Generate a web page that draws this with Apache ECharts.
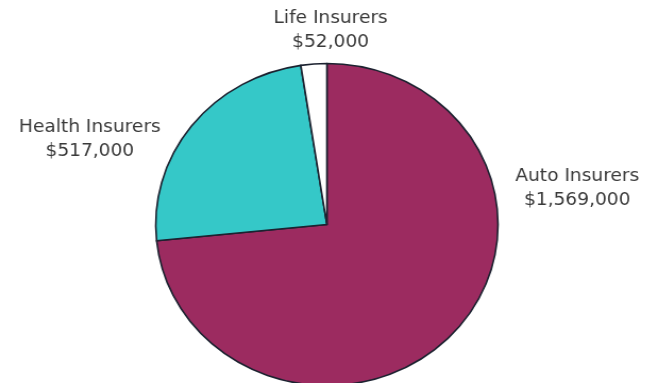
<!DOCTYPE html>
<html>
<head>
<meta charset="utf-8">
<script src="https://cdn.jsdelivr.net/npm/echarts@6/dist/echarts.min.js"></script>
<style>
  html, body { margin: 0; padding: 0; background: #fff; overflow: hidden; }
  #wrap { width: 655px; height: 383px; overflow: hidden; }
  /* chart is laid out narrower and stretched horizontally to an oval */
  #chart { width: 616px; height: 383px; transform: scaleX(1.063); transform-origin: 0 0; }
</style>
</head>
<body>
<div id="wrap"><div id="chart"></div></div>
<script>
const categories = ['Auto Insurers', 'Health Insurers', 'Life Insurers'];
const premiums = [1569000, 517000, 52000];
const sliceColors = ['#9c2b60', '#35c8c8', '#ffffff'];

// label anchor points (chart coordinates) for each slice, in category order
const labelSpots = [
  { x: 543, y: 188 },
  { x: 84.5, y: 139 },
  { x: 311, y: 30 }
];

const fmt = v => '$' + v.toLocaleString('en-US');

const chart = echarts.init(document.getElementById('chart'), null, { renderer: 'canvas' });
chart.setOption({
  animation: false,
  backgroundColor: '#ffffff',
  series: [{
    type: 'pie',
    center: [307.5, 224.5],
    radius: 161,
    startAngle: 90,
    clockwise: true,
    avoidLabelOverlap: false,
    data: categories.map((name, i) => ({
      name,
      value: premiums[i],
      itemStyle: { color: sliceColors[i] }
    })),
    itemStyle: { borderColor: '#1c2230', borderWidth: 1.6 },
    label: {
      show: true,
      position: 'outside',
      formatter: p => p.name + '\n' + fmt(p.value),
      fontFamily: 'DejaVu Sans',
      fontSize: 17.5,
      lineHeight: 24,
      color: '#3a3a3a',
      align: 'center'
    },
    labelLine: { show: false },
    labelLayout: p => ({
      x: labelSpots[p.dataIndex].x,
      y: labelSpots[p.dataIndex].y,
      align: 'center',
      verticalAlign: 'middle'
    }),
    emphasis: { disabled: true }
  }]
});
</script>
</body>
</html>
